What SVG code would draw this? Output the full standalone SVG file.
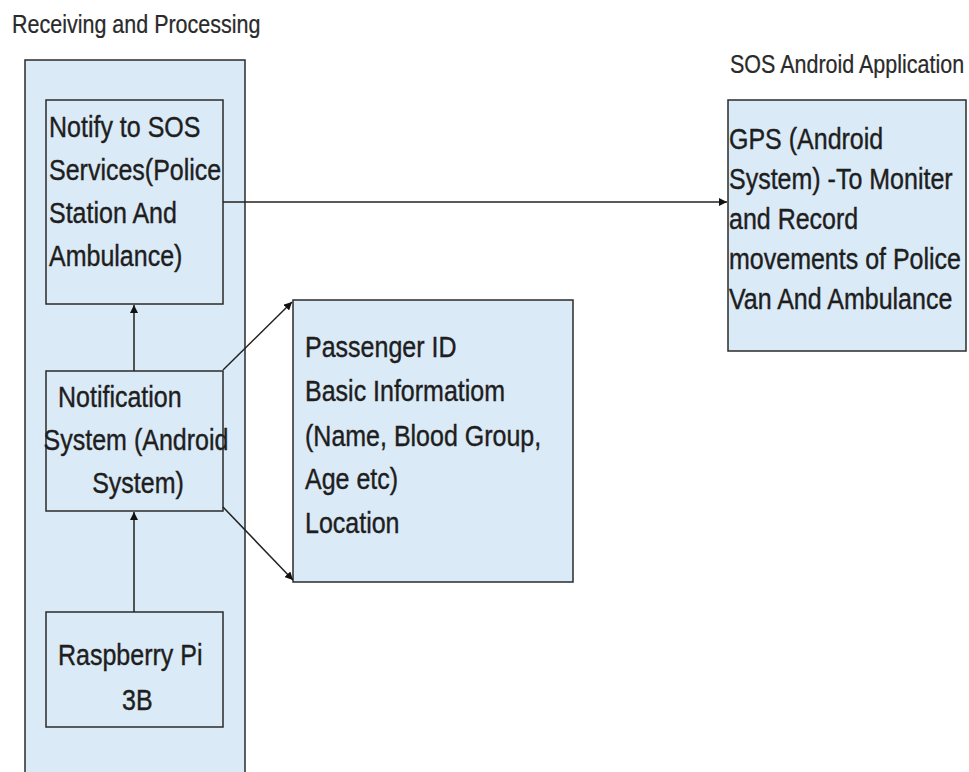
<svg xmlns="http://www.w3.org/2000/svg" width="969" height="772" viewBox="0 0 969 772">
<defs>
<style>
.box{fill:#dbeaf7;stroke:#2b2b2b;stroke-width:1.5}
.t{font-family:"Liberation Sans",Arial,sans-serif;font-size:25px;fill:#1e1e1e;stroke:#1e1e1e;stroke-width:0.35}
.title{font-family:"Liberation Sans",Arial,sans-serif;font-size:21.5px;fill:#2a2a2a;stroke:#2a2a2a;stroke-width:0.2}
.c{stroke:#222;stroke-width:1.5;fill:none;marker-end:url(#ah)}
</style>
<marker id="ah" viewBox="0 0 10 10" refX="10" refY="5" markerWidth="8" markerHeight="8" markerUnits="userSpaceOnUse" orient="auto">
<path d="M0,0 L10,5 L0,10 z" fill="#111"/>
</marker>
</defs>
<rect width="969" height="772" fill="#ffffff"/>
<g id="title-left"><text class="title" transform="translate(12,33) scale(1,1.18)">Receiving and Processing</text></g>
<g id="title-right"><text class="title" transform="translate(730,73) scale(1,1.18)">SOS Android Application</text></g>
<g id="container"><rect class="box" x="25" y="60" width="220" height="730"/></g>
<g id="notify">
<rect class="box" x="46" y="100" width="177" height="204"/>
<text class="t" transform="translate(49,137) scale(1,1.15)"><tspan x="0" y="0">Notify to SOS</tspan><tspan x="0" dy="37.4">Services(Police</tspan><tspan x="0" dy="37.4">Station And</tspan><tspan x="0" dy="37.4">Ambulance)</tspan></text>
</g>
<g id="notification">
<rect class="box" x="46" y="371" width="177" height="140"/>
<text class="t" transform="translate(0,407) scale(1,1.15)"><tspan x="58" y="0">Notification</tspan><tspan x="136" dy="37.8" text-anchor="middle">System (Android</tspan><tspan x="138" dy="37.2" text-anchor="middle">System)</tspan></text>
</g>
<g id="raspberry">
<rect class="box" x="46" y="612" width="177" height="115"/>
<text class="t" transform="translate(0,665) scale(1,1.15)"><tspan x="58" y="0">Raspberry Pi</tspan><tspan x="122" dy="39.5">3B</tspan></text>
</g>
<g id="passenger">
<rect class="box" x="293" y="300" width="280" height="282"/>
<text class="t" transform="translate(305,357) scale(1,1.15)"><tspan x="0" y="0">Passenger ID</tspan><tspan x="0" dy="38.6">Basic Informatiom</tspan><tspan x="0" dy="38.6">(Name, Blood Group,</tspan><tspan x="0" dy="37.8">Age etc)</tspan><tspan x="0" dy="38.2">Location</tspan></text>
</g>
<g id="gps">
<rect class="box" x="728" y="100" width="238" height="251"/>
<text class="t" transform="translate(729,149) scale(1,1.15)"><tspan x="0" y="0">GPS (Android</tspan><tspan x="0" dy="34.8">System) -To Moniter</tspan><tspan x="0" dy="34.8">and Record</tspan><tspan x="0" dy="34.8">movements of Police</tspan><tspan x="0" dy="34.8">Van And Ambulance</tspan></text>
</g>
<g id="connectors">
<line class="c" x1="134" y1="371" x2="134" y2="305"/>
<line class="c" x1="134" y1="612" x2="134" y2="512"/>
<line class="c" x1="223" y1="202" x2="727" y2="202"/>
<line class="c" x1="223" y1="370" x2="292" y2="302"/>
<line class="c" x1="223" y1="507" x2="293" y2="580"/>
</g>
</svg>
